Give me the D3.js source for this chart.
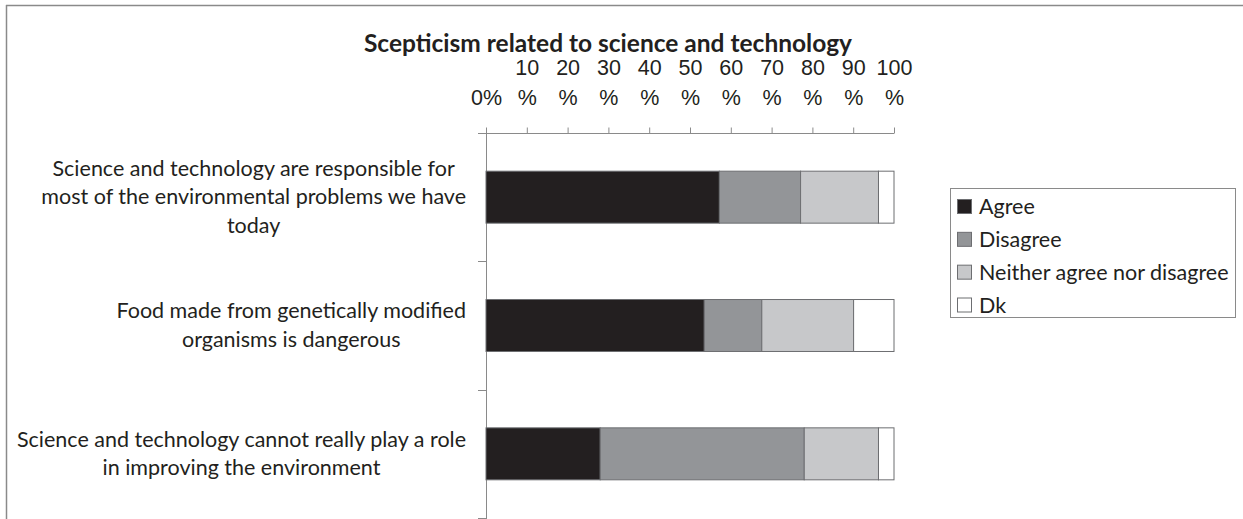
<!DOCTYPE html>
<html>
<head>
<meta charset="utf-8">
<script src="https://cdn.jsdelivr.net/npm/d3@7"></script>
<style>
  html, body { margin: 0; padding: 0; background: #fff; }
  svg { display: block; font-family: Lato, "Liberation Sans", sans-serif; }
</style>
</head>
<body>
<svg id="chart" width="1243" height="519"></svg>
<script>
// ---- data ----
const title = "Scepticism related to science and technology";
const categories = [
  "Science and technology are responsible for\nmost of the environmental problems we have\ntoday",
  "Food made from genetically modified\norganisms is dangerous",
  "Science and technology cannot really play a role\nin improving the environment"
];
const seriesNames = ["Agree", "Disagree", "Neither agree nor disagree", "Dk"];
const agree    = [57.2, 53.5, 28.0];
const disagree = [19.9, 14.1, 50.0];
const neither  = [19.1, 22.5, 18.2];
const dk       = [3.8, 9.9, 3.8];
const tickValues = [0, 10, 20, 30, 40, 50, 60, 70, 80, 90, 100];
const tickLabelTop    = ["", "10", "20", "30", "40", "50", "60", "70", "80", "90", "100"];
const tickLabelBottom = ["0%", "%", "%", "%", "%", "%", "%", "%", "%", "%", "%"];
const colors = ["#231f20", "#939598", "#c7c8ca", "#ffffff"];

// ---- build ----
const svg = d3.select("#chart");
const axisColor = "#8a8a8a";
const fontSize = 21.5;

// chart frame (top and left edges)
svg.append("line").attr("x1", 6).attr("x2", 1243).attr("y1", 5.5).attr("y2", 5.5)
  .attr("stroke", axisColor).attr("stroke-width", 1.5);
svg.append("line").attr("x1", 6.5).attr("x2", 6.5).attr("y1", 5).attr("y2", 519)
  .attr("stroke", axisColor).attr("stroke-width", 1.5);

const x = d3.scaleLinear().domain([0, 100]).range([486, 894]);
const y = d3.scaleBand().domain(categories).range([133, 518])
  .paddingInner(0.595).paddingOuter(0.2975);

const rows = categories.map((c, i) => ({
  cat: c, Agree: agree[i], Disagree: disagree[i],
  "Neither agree nor disagree": neither[i], Dk: dk[i]
}));
const stack = d3.stack().keys(seriesNames)(rows);

// title
svg.append("text").attr("x", 608).attr("y", 52)
  .attr("text-anchor", "middle").attr("font-weight", "bold")
  .attr("font-size", 24.5).attr("fill", "#231f20").text(title);

// top axis
const gx = svg.append("g").attr("transform", "translate(0,133.5)")
  .call(d3.axisTop(x).tickValues(tickValues).tickSize(6).tickSizeOuter(0).tickFormat(""));
gx.select(".domain").attr("stroke", axisColor).attr("d", `M${x(0) - 8},0H${x(100)}`);
gx.selectAll(".tick line").attr("stroke", axisColor);
gx.selectAll(".tick").each(function(d, i) {
  const t = d3.select(this);
  t.append("text").attr("y", -58.5).attr("text-anchor", "middle")
    .attr("fill", "#231f20").attr("font-size", fontSize).text(tickLabelTop[i]);
  t.append("text").attr("y", -28.5).attr("text-anchor", "middle")
    .attr("fill", "#231f20").attr("font-size", fontSize).text(tickLabelBottom[i]);
});

// left axis
const step = y.step();
const boundaries = categories.map(c => y(c) - y.paddingInner() * step / 2);
boundaries.push(boundaries[boundaries.length - 1] + step);
const gy = svg.append("g");
gy.append("line").attr("x1", x(0) + 0.5).attr("x2", x(0) + 0.5)
  .attr("y1", 133).attr("y2", 519).attr("stroke", axisColor);
gy.selectAll("line.tk").data(boundaries.slice(1)).join("line").attr("class", "tk")
  .attr("x1", x(0) - 8).attr("x2", x(0)).attr("y1", d => Math.round(d) + 0.5)
  .attr("y2", d => Math.round(d) + 0.5).attr("stroke", axisColor);

// category labels
const lineH = 28.5;
const labelRight = 466;
categories.forEach(c => {
  const lines = c.split("\n");
  const g = svg.append("g");
  const cy = y(c) + y.bandwidth() / 2;
  const texts = lines.map((l, j) => g.append("text")
    .attr("y", cy + (j - (lines.length - 1) / 2) * lineH + 7)
    .attr("font-size", fontSize).attr("fill", "#231f20")
    .attr("text-anchor", "middle").text(l));
  const maxW = d3.max(texts, t => t.node().getComputedTextLength());
  texts.forEach(t => t.attr("x", labelRight - maxW / 2));
});

// bars
svg.append("g").selectAll("g").data(stack).join("g")
  .attr("fill", (d, i) => colors[i])
  .selectAll("rect").data(d => d).join("rect")
  .attr("x", d => x(d[0]))
  .attr("y", d => y(d.data.cat))
  .attr("width", d => x(d[1]) - x(d[0]))
  .attr("height", y.bandwidth())
  .attr("stroke", "#6d6e71").attr("stroke-width", 1);

// legend
const lg = svg.append("g");
lg.append("rect").attr("x", 950.5).attr("y", 188.5).attr("width", 285).attr("height", 129)
  .attr("fill", "none").attr("stroke", axisColor);
const rowY = d3.scalePoint().domain(seriesNames).range([206.5, 305]);
seriesNames.forEach((s, i) => {
  lg.append("rect").attr("x", 957.5).attr("y", rowY(s) - 7).attr("width", 14).attr("height", 14)
    .attr("fill", colors[i]).attr("stroke", "#6d6e71");
  lg.append("text").attr("x", 979).attr("y", rowY(s) + 7.5)
    .attr("font-size", fontSize).attr("fill", "#231f20").text(s);
});
</script>
</body>
</html>
